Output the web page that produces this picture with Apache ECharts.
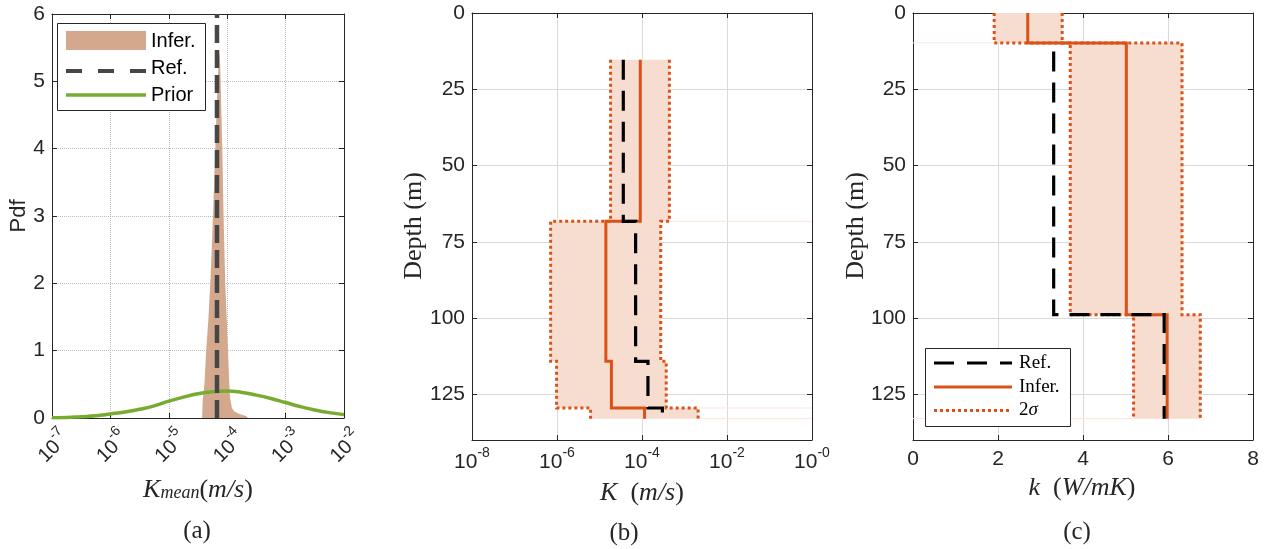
<!DOCTYPE html>
<html><head><meta charset="utf-8">
<script src="https://cdn.jsdelivr.net/npm/echarts@6/dist/echarts.min.js"></script>
<style>html,body{margin:0;padding:0;background:#fff}#c{width:1265px;height:549px}</style>
</head><body><div id="c"></div>
<script>
// ---------- Panel (a): pdf of K_mean (x values are log10 K) ----------
const histLogK = [-4.43,-4.42,-4.39,-4.36,-4.32,-4.29,-4.265,-4.243,-4.224,-4.204,-4.184,-4.164,-4.145,-4.13,-4.12,-4.113,-4.098,-4.084,-4.073,-4.062,-4.048,-4.033,-4.01,-3.986,-3.964,-3.95,-3.92,-3.88,-3.82,-3.75,-3.68,-3.64];
const histPdf  = [0,0.25,0.5,1.0,1.5,2.0,2.5,3.0,3.5,4.0,4.5,5.0,5.3,5.47,5.25,5.0,4.5,4.0,3.5,3.0,2.5,2.0,1.5,1.0,0.5,0.3,0.15,0.1,0.07,0.05,0.03,0];
const priorLogK = [-7,-6.75,-6.5,-6.25,-6,-5.75,-5.5,-5.25,-5,-4.75,-4.5,-4.25,-4,-3.75,-3.5,-3.25,-3,-2.75,-2.5,-2.25,-2];
const priorPdf  = [0.005,0.009,0.02,0.033,0.06,0.09,0.13,0.18,0.25,0.31,0.36,0.39,0.40,0.38,0.34,0.29,0.23,0.17,0.12,0.08,0.05];
const refLogKmean = -4.175;
const pdfRange = [0, 6];
const kmeanRange = [-7, -2];

// ---------- Panel (b): K profile (log10 K) ----------
const depthB  = [15.3, 68.3, 114.2, 129.5, 133.0];
const infLogKB = [-4.04, -4.85, -4.72, -3.94];
const refLogKB = [-4.44, -4.15, -3.86, -3.52];
const lowLogKB = [-4.74, -6.15, -6.01, -5.21];
const upLogKB  = [-3.355, -3.56, -3.43, -2.68];
const kRangeB = [-8, 0];

// ---------- Panel (c): thermal conductivity profile ----------
const depthC = [0, 9.8, 98.9, 133.0];
const infC = [2.70, 5.02, 5.98];
const lowC = [1.91, 3.70, 5.19];
const upC  = [3.51, 6.33, 6.76];
const refDepthC = [12.6, 98.9, 133.0];
const refC = [3.31, 5.91];
const kRangeC = [0, 8];
const depthRange = [0, 140];

// ---------- styling ----------
const AX = '#262626';
const ORANGE = '#D95319';
const FILL = '#F7DCD0';
const FAINT = '#FBE6DD';
const SANS = '"Liberation Sans", Arial, Helvetica, sans-serif';
const SERIF = '"Liberation Serif", "Times New Roman", serif';

function stairs(vals, depths){
  const pts = [];
  for (let i = 0; i < vals.length; i++){ pts.push([vals[i], depths[i]]); pts.push([vals[i], depths[i+1]]); }
  return pts;
}
function zip(a, b){ return a.map((v, i) => [v, b[i]]); }

const supRich = {
  b: {fontFamily: SANS, fontSize: 21, color: AX, padding: [6,0,0,0]},
  s: {fontFamily: SANS, fontSize: 14, color: AX, verticalAlign: 'top'}
};
const supRichA = {
  b: {fontFamily: SANS, fontSize: 20, color: AX, padding: [6,0,0,0]},
  s: {fontFamily: SANS, fontSize: 14, color: AX, verticalAlign: 'top'}
};

function xAx(grid, rng, interval, opts){
  const base = {gridIndex: grid, type: 'value', min: rng[0], max: rng[1], interval: interval,
    axisLine: {show: true, onZero: false, lineStyle: {color: AX, width: 1}},
    axisTick: {show: true, inside: true, length: 5, lineStyle: {color: AX}},
    splitLine: {show: false}, axisLabel: {show: false}};
  return Object.assign(base, opts);
}
const gridSolid = {show: true, lineStyle: {color: '#dadada', width: 1}};
const gridDot = {show: true, lineStyle: {color: '#bdbdbd', width: 1, type: 'dotted'}};

const depthLabel = {show: true, margin: 7, fontFamily: SANS, fontSize: 21, color: AX,
  formatter: v => (v % 25 === 0 ? String(v) : '')};

const xAxes = [
  xAx(0, kmeanRange, 1, {position: 'bottom', splitLine: gridDot,
    axisLabel: {show: true, rotate: 45, margin: 27, align: 'center', verticalAlign: 'middle',
      formatter: v => '{b|10}{s|' + v + '}', rich: supRichA}}),
  xAx(0, kmeanRange, 1, {position: 'top'}),
  xAx(1, kRangeB, 2, {position: 'bottom', splitLine: gridSolid,
    axisLabel: {show: true, margin: 6, formatter: v => '{b|10}{s|' + (v === 0 ? '-0' : v) + '}', rich: supRich}}),
  xAx(1, kRangeB, 2, {position: 'top'}),
  xAx(2, kRangeC, 2, {position: 'bottom', splitLine: gridSolid,
    axisLabel: {show: true, margin: 9, fontFamily: SANS, fontSize: 21, color: AX}}),
  xAx(2, kRangeC, 2, {position: 'top'})
];
const yAxes = [
  xAx(0, pdfRange, 1, {position: 'left', splitLine: gridDot,
    axisLabel: {show: true, margin: 7, fontFamily: SANS, fontSize: 21, color: AX}}),
  xAx(0, pdfRange, 1, {position: 'right'}),
  xAx(1, depthRange, 25, {position: 'left', inverse: true, splitLine: gridSolid, axisLabel: depthLabel}),
  xAx(1, depthRange, 25, {position: 'right', inverse: true}),
  xAx(2, depthRange, 25, {position: 'left', inverse: true, splitLine: gridSolid, axisLabel: depthLabel}),
  xAx(2, depthRange, 25, {position: 'right', inverse: true})
];

function lineS(xi, yi, data, color, width, type, z){
  return {type: 'line', xAxisIndex: xi, yAxisIndex: yi, data: data, showSymbol: false, symbol: 'none',
    silent: true, animation: false, z: z,
    lineStyle: {color: color, width: width, type: type, cap: 'butt', join: 'miter'}};
}
function bandS(xi, yi, lows, ups, depths){
  const poly = stairs(lows, depths).concat(stairs(ups, depths).reverse());
  return {type: 'custom', xAxisIndex: xi, yAxisIndex: yi, silent: true, z: 1, animation: false, clip: true,
    data: [[lows[0], depths[0]]],
    renderItem: (params, api) => ({type: 'polygon', shape: {points: poly.map(p => api.coord(p))}, style: {fill: FILL}})};
}

const series = [
  // (a)
  {type: 'line', xAxisIndex: 0, yAxisIndex: 0, data: zip(histLogK, histPdf), showSymbol: false, symbol: 'none',
   silent: true, animation: false, z: 2, lineStyle: {width: 0}, areaStyle: {color: '#D4A88C', opacity: 1}},
  Object.assign(lineS(0, 0, zip(priorLogK, priorPdf), '#77AC30', 3.5, 'solid', 3), {smooth: true}),
  lineS(0, 0, [[refLogKmean, pdfRange[0]], [refLogKmean, pdfRange[1]]], '#464646', 4.5, [18, 7], 4),
  // (b)
  bandS(2, 2, lowLogKB, upLogKB, depthB),
  lineS(2, 2, [[Math.max(upLogKB[0], upLogKB[1]), depthB[1]], [kRangeB[1], depthB[1]]], FAINT, 1, 'solid', 1),
  lineS(2, 2, [[upLogKB[3], depthB[3]], [kRangeB[1], depthB[3]]], FAINT, 1, 'solid', 1),
  lineS(2, 2, [[upLogKB[3], depthB[4]], [kRangeB[1], depthB[4]]], FAINT, 1, 'solid', 1),
  lineS(2, 2, stairs(lowLogKB, depthB), ORANGE, 3, [3, 3], 3),
  lineS(2, 2, stairs(upLogKB, depthB), ORANGE, 3, [3, 3], 3),
  lineS(2, 2, stairs(infLogKB, depthB), ORANGE, 3, 'solid', 4),
  lineS(2, 2, stairs(refLogKB, depthB), '#000000', 3.2, [20, 11], 5),
  // (c)
  bandS(4, 4, lowC, upC, depthC),
  lineS(4, 4, [[kRangeC[0], depthC[1]], [lowC[0], depthC[1]]], FAINT, 1, 'solid', 1),
  lineS(4, 4, [[kRangeC[0], depthC[3]], [lowC[2], depthC[3]]], FAINT, 1, 'solid', 1),
  lineS(4, 4, stairs(lowC, depthC), ORANGE, 3, [3, 3], 3),
  lineS(4, 4, stairs(upC, depthC), ORANGE, 3, [3, 3], 3),
  lineS(4, 4, stairs(infC, depthC), ORANGE, 3, 'solid', 4),
  lineS(4, 4, stairs(refC, refDepthC), '#000000', 3.2, [20, 11], 5)
];

function txt(x, y, text, font, opts){
  return Object.assign({type: 'text', x: x, y: y, z: 100, silent: true,
    style: {text: text, font: font, fill: AX, align: 'center', verticalAlign: 'middle'}}, opts || {});
}
function rtxt(x, y, text, rich, opts){
  return Object.assign({type: 'text', x: x, y: y, z: 100, silent: true,
    style: {text: text, rich: rich, fill: AX, align: 'center', verticalAlign: 'middle'}}, opts || {});
}
const mathRich = {
  i: {fontFamily: SERIF, fontStyle: 'italic', fontSize: 26, color: AX},
  r: {fontFamily: SERIF, fontSize: 26, color: AX},
  sub: {fontFamily: SERIF, fontStyle: 'italic', fontSize: 18, color: AX, padding: [7, 0, 0, 0]}
};
const legRich = {
  r: {fontFamily: SERIF, fontSize: 19, color: AX},
  i: {fontFamily: SERIF, fontStyle: 'italic', fontSize: 19, color: AX}
};
function leftTxt(x, y, text){
  return {type: 'text', x: x, y: y, z: 100, silent: true,
    style: {text: text, font: '20px ' + SANS, fill: '#000', align: 'left', verticalAlign: 'middle'}};
}

const graphic = [
  // axis names
  txt(19, 216, 'Pdf', '22px ' + SANS, {rotation: Math.PI / 2}),
  txt(414, 226, 'Depth (m)', '26px ' + SERIF, {rotation: Math.PI / 2}),
  txt(856, 226, 'Depth (m)', '26px ' + SERIF, {rotation: Math.PI / 2}),
  rtxt(198, 490, '{i|K}{sub|mean}{r|(}{i|m/s}{r|)}', mathRich),
  rtxt(642, 493, '{i|K}{r|  (}{i|m/s}{r|)}', mathRich),
  rtxt(1082, 488, '{i|k}{r|  (}{i|W/mK}{r|)}', mathRich),
  txt(197, 531, '(a)', '25px ' + SERIF),
  txt(624, 533, '(b)', '25px ' + SERIF),
  txt(1077, 532, '(c)', '25px ' + SERIF),
  // legend (a)
  {type: 'rect', z: 90, silent: true, shape: {x: 57.5, y: 23.5, width: 148, height: 87},
   style: {fill: '#fff', stroke: AX, lineWidth: 1}},
  {type: 'rect', z: 91, silent: true, shape: {x: 66, y: 31, width: 80, height: 19}, style: {fill: '#D4A88C'}},
  {type: 'line', z: 91, silent: true, shape: {x1: 66, y1: 71, x2: 146, y2: 71},
   style: {stroke: '#464646', lineWidth: 4, lineDash: [16, 16]}},
  {type: 'line', z: 91, silent: true, shape: {x1: 66, y1: 95, x2: 146, y2: 95},
   style: {stroke: '#77AC30', lineWidth: 3.5}},
  leftTxt(151, 41, 'Infer.'),
  leftTxt(151, 68, 'Ref.'),
  leftTxt(151, 95, 'Prior'),
  // legend (c)
  {type: 'rect', z: 90, silent: true, shape: {x: 925.5, y: 348.5, width: 145, height: 78},
   style: {fill: '#fff', stroke: AX, lineWidth: 1}},
  {type: 'line', z: 91, silent: true, shape: {x1: 934, y1: 363, x2: 1012, y2: 363},
   style: {stroke: '#000', lineWidth: 3.2, lineDash: [20, 13]}},
  {type: 'line', z: 91, silent: true, shape: {x1: 934, y1: 387, x2: 1012, y2: 387},
   style: {stroke: ORANGE, lineWidth: 3}},
  {type: 'line', z: 91, silent: true, shape: {x1: 934, y1: 410.5, x2: 1012, y2: 410.5},
   style: {stroke: ORANGE, lineWidth: 3, lineDash: [3, 3]}},
  {type: 'text', x: 1019, y: 363, z: 100, silent: true, style: {text: '{r|Ref.}', rich: legRich, align: 'left', verticalAlign: 'middle'}},
  {type: 'text', x: 1019, y: 387, z: 100, silent: true, style: {text: '{r|Infer.}', rich: legRich, align: 'left', verticalAlign: 'middle'}},
  {type: 'text', x: 1019, y: 410, z: 100, silent: true, style: {text: '{r|2}{i|σ}', rich: legRich, align: 'left', verticalAlign: 'middle'}}
];

const option = {
  animation: false,
  backgroundColor: '#ffffff',
  grid: [
    {left: 52, top: 14, width: 292, height: 404},
    {left: 472, top: 13, width: 340, height: 427},
    {left: 913, top: 13, width: 340, height: 427}
  ],
  xAxis: xAxes,
  yAxis: yAxes,
  series: series,
  graphic: graphic
};
const chart = echarts.init(document.getElementById('c'));
chart.setOption(option);
</script>
</body></html>
